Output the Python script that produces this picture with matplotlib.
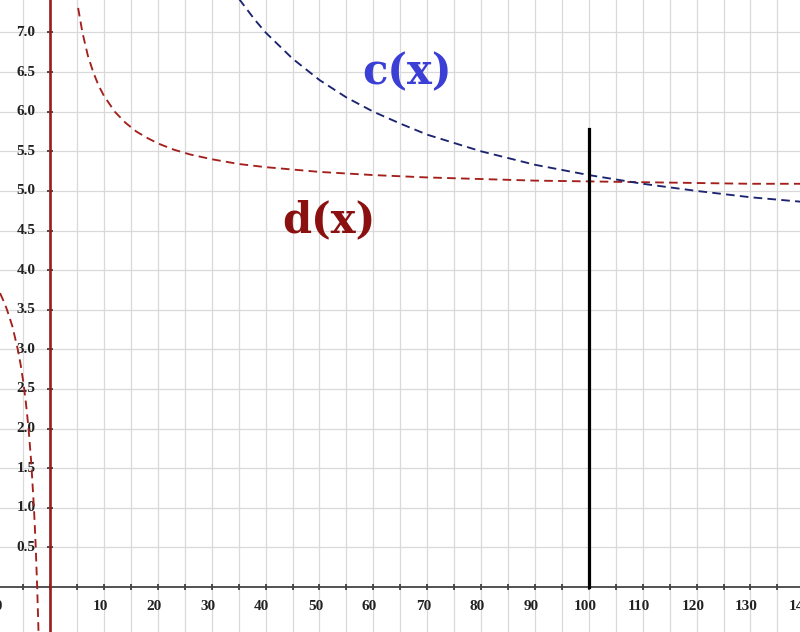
import numpy as np
import matplotlib
matplotlib.use("Agg")
import matplotlib.pyplot as plt

# ---------- DATA ----------
# d(x), right branch
d_right_x = [5.2, 6, 7, 8, 9, 10, 12, 14, 16, 18, 20, 23, 26, 30, 35, 40,
             50, 60, 70, 80, 90, 100, 110, 120, 130, 140]
d_right_y = [7.31, 7.0, 6.71, 6.5, 6.33, 6.2, 6.0, 5.86, 5.75, 5.67, 5.6, 5.52,
             5.46, 5.4, 5.34, 5.3, 5.24, 5.2, 5.17, 5.15, 5.13, 5.12, 5.11,
             5.1, 5.09, 5.09]
# d(x), left branch
d_left_x = [-9.3, -8.5, -8, -7, -6, -5.5, -5, -4.5, -4, -3.5, -3, -2.7,
            -2.4, -2.2, -2.15]
d_left_y = [3.71, 3.59, 3.5, 3.29, 3.0, 2.82, 2.6, 2.33, 2.0, 1.57, 1.0,
            0.56, 0.0, -0.45, -0.58]
# c(x)
c_x = [35, 38, 40, 45, 50, 55, 60, 65, 70, 80, 90, 100, 110, 120, 130, 140]
c_y = [7.43, 7.16, 7.0, 6.67, 6.4, 6.18, 6.0, 5.85, 5.71, 5.5, 5.33, 5.2,
       5.09, 5.0, 4.92, 4.86]

# vertical marker at x = 100
marker_x = 100
marker_top = 5.78

x_labels = [-10, 10, 20, 30, 40, 50, 60, 70, 80, 90, 100, 110, 120, 130, 140]
y_labels = [0.5, 1.0, 1.5, 2.0, 2.5, 3.0, 3.5, 4.0, 4.5, 5.0, 5.5, 6.0, 6.5, 7.0]

# ---------- PLOT ----------
fig = plt.figure(figsize=(8, 6.32), dpi=100)
ax = fig.add_axes([0, 0, 1, 1])
ax.set_xlim(-9.3, 139.2)
ax.set_ylim(-0.568, 7.41)

ax.set_xticks(np.arange(-5, 140, 5))
ax.set_yticks(y_labels)
ax.grid(True, color="#d9d9d9", linewidth=0.9)
ax.set_axisbelow(True)

for s in ["top", "right"]:
    ax.spines[s].set_visible(False)
ax.spines["bottom"].set_position(("data", 0))
ax.spines["left"].set_position(("data", 0))
ax.spines["bottom"].set_color("#444444")
ax.spines["bottom"].set_linewidth(1.3)
ax.spines["left"].set_visible(False)
ax.tick_params(axis="both", direction="inout", length=4, width=1.2,
               color="#333333", labelleft=False, labelbottom=False)

tick_font = {"family": "Liberation Serif", "weight": "bold"}
name_font = {"family": "DejaVu Serif", "weight": "bold"}

for v in x_labels:
    ax.text(v - 0.7, -0.25, f"{v}", ha="center", va="center",
            fontsize=11, color="#222222", clip_on=False, **tick_font)
for v in y_labels:
    ax.text(-2.7, v, f"{v:.1f}", ha="right", va="center",
            fontsize=11, color="#222222", **tick_font)

# asymptote / y axis
ax.axvline(0, color="#9b1c1c", linewidth=1.9, zorder=3)

ax.plot(d_right_x, d_right_y, color="#a3201c", linewidth=1.35,
        dashes=(4.6, 2.8), zorder=4)
ax.plot(d_left_x, d_left_y, color="#a3201c", linewidth=1.35,
        dashes=(4.6, 2.8), zorder=4)
ax.plot(c_x, c_y, color="#1c2470", linewidth=1.35,
        dashes=(4.6, 2.8), zorder=4)

ax.plot([marker_x, marker_x], [0, marker_top], color="black",
        linewidth=2.3, zorder=5)

ax.text(66.2, 6.5, "c(x)", color="#3b3fd6", fontsize=30,
        ha="center", va="center", **name_font)
ax.text(51.8, 4.63, "d(x)", color="#8b1010", fontsize=30,
        ha="center", va="center", **name_font)

fig.savefig("out.png", dpi=100)
